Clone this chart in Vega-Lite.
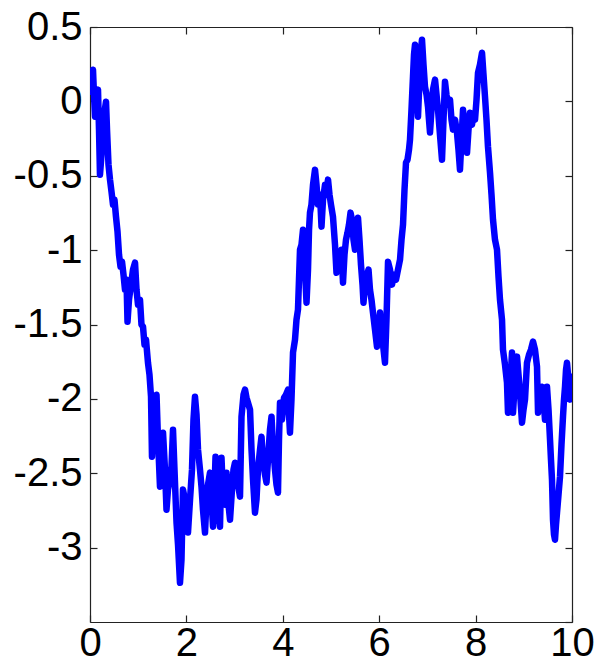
{
  "$schema": "https://vega.github.io/schema/vega-lite/v6.json",
  "width": 482,
  "height": 595,
  "autosize": {"type": "none"},
  "padding": {"left": 90, "top": 27, "right": 28, "bottom": 40},
  "background": "white",
  "config": {
    "view": {"stroke": null},
    "axis": {
      "domainColor": "#222222",
      "domainWidth": 1.2,
      "tickColor": "#222222",
      "tickWidth": 1.2,
      "tickSize": -7,
      "labelFont": "Liberation Sans",
      "labelFontSize": 40,
      "labelColor": "#000000",
      "grid": false,
      "title": null
    }
  },
  "data": {
    "values": [
      {"x":0,"y":0.065},{"x":0.031,"y":0.159},{"x":0.062,"y":0.213},{"x":0.083,"y":0.045},{"x":0.104,"y":-0.103},
      {"x":0.135,"y":0.025},{"x":0.166,"y":0.079},{"x":0.187,"y":-0.19},{"x":0.207,"y":-0.493},{"x":0.239,"y":-0.358},
      {"x":0.27,"y":-0.11},{"x":0.301,"y":-0.069},{"x":0.332,"y":-0.002},{"x":0.353,"y":-0.19},{"x":0.384,"y":-0.426},
      {"x":0.415,"y":-0.526},{"x":0.446,"y":-0.607},{"x":0.477,"y":-0.694},{"x":0.508,"y":-0.661},{"x":0.539,"y":-0.775},
      {"x":0.571,"y":-0.876},{"x":0.602,"y":-1.031},{"x":0.633,"y":-1.111},{"x":0.664,"y":-1.078},{"x":0.695,"y":-1.165},
      {"x":0.726,"y":-1.266},{"x":0.757,"y":-1.199},{"x":0.778,"y":-1.481},{"x":0.809,"y":-1.333},{"x":0.851,"y":-1.232},
      {"x":0.892,"y":-1.131},{"x":0.934,"y":-1.084},{"x":0.965,"y":-1.266},{"x":0.996,"y":-1.367},{"x":1.037,"y":-1.333},
      {"x":1.068,"y":-1.501},{"x":1.1,"y":-1.515},{"x":1.131,"y":-1.636},{"x":1.162,"y":-1.602},{"x":1.203,"y":-1.757},
      {"x":1.234,"y":-1.837},{"x":1.266,"y":-1.985},{"x":1.286,"y":-2.389},{"x":1.317,"y":-2.14},{"x":1.349,"y":-2.019},
      {"x":1.38,"y":-1.972},{"x":1.411,"y":-2.274},{"x":1.452,"y":-2.59},{"x":1.483,"y":-2.342},{"x":1.515,"y":-2.227},
      {"x":1.556,"y":-2.476},{"x":1.587,"y":-2.745},{"x":1.618,"y":-2.61},{"x":1.66,"y":-2.543},{"x":1.691,"y":-2.456},
      {"x":1.722,"y":-2.207},{"x":1.753,"y":-2.476},{"x":1.795,"y":-2.832},{"x":1.826,"y":-2.98},{"x":1.867,"y":-3.236},
      {"x":1.898,"y":-3.081},{"x":1.929,"y":-2.61},{"x":1.971,"y":-2.678},{"x":2.002,"y":-2.758},{"x":2.033,"y":-2.899},
      {"x":2.075,"y":-2.678},{"x":2.116,"y":-2.476},{"x":2.147,"y":-2.14},{"x":2.178,"y":-1.985},{"x":2.21,"y":-2.106},
      {"x":2.241,"y":-2.342},{"x":2.282,"y":-2.476},{"x":2.313,"y":-2.59},{"x":2.344,"y":-2.745},{"x":2.386,"y":-2.899},
      {"x":2.417,"y":-2.678},{"x":2.448,"y":-2.577},{"x":2.49,"y":-2.496},{"x":2.521,"y":-2.678},{"x":2.552,"y":-2.859},
      {"x":2.583,"y":-2.61},{"x":2.604,"y":-2.389},{"x":2.635,"y":-2.61},{"x":2.666,"y":-2.745},{"x":2.697,"y":-2.859},
      {"x":2.728,"y":-2.395},{"x":2.759,"y":-2.644},{"x":2.801,"y":-2.711},{"x":2.832,"y":-2.496},{"x":2.863,"y":-2.678},
      {"x":2.905,"y":-2.812},{"x":2.946,"y":-2.61},{"x":2.977,"y":-2.476},{"x":3.008,"y":-2.429},{"x":3.04,"y":-2.476},
      {"x":3.071,"y":-2.577},{"x":3.112,"y":-2.657},{"x":3.143,"y":-2.12},{"x":3.185,"y":-1.972},{"x":3.216,"y":-1.938},
      {"x":3.247,"y":-1.992},{"x":3.278,"y":-2.026},{"x":3.32,"y":-2.073},{"x":3.351,"y":-2.342},{"x":3.382,"y":-2.543},
      {"x":3.423,"y":-2.765},{"x":3.454,"y":-2.678},{"x":3.485,"y":-2.476},{"x":3.527,"y":-2.342},{"x":3.558,"y":-2.254},
      {"x":3.589,"y":-2.409},{"x":3.631,"y":-2.51},{"x":3.662,"y":-2.563},{"x":3.693,"y":-2.409},{"x":3.734,"y":-2.207},
      {"x":3.766,"y":-2.12},{"x":3.797,"y":-2.308},{"x":3.838,"y":-2.476},{"x":3.869,"y":-2.577},{"x":3.9,"y":-2.631},
      {"x":3.921,"y":-2.274},{"x":3.942,"y":-2.026},{"x":3.983,"y":-2.14},{"x":4.025,"y":-1.992},{"x":4.066,"y":-1.972},
      {"x":4.108,"y":-1.938},{"x":4.129,"y":-2.106},{"x":4.149,"y":-2.227},{"x":4.18,"y":-2.005},{"x":4.212,"y":-1.689},
      {"x":4.253,"y":-1.602},{"x":4.284,"y":-1.468},{"x":4.315,"y":-1.4},{"x":4.336,"y":-1.199},{"x":4.357,"y":-0.997},
      {"x":4.388,"y":-0.963},{"x":4.419,"y":-0.863},{"x":4.45,"y":-1.064},{"x":4.492,"y":-1.353},{"x":4.523,"y":-1.131},
      {"x":4.544,"y":-0.863},{"x":4.564,"y":-0.748},{"x":4.595,"y":-0.694},{"x":4.627,"y":-0.56},{"x":4.668,"y":-0.459},
      {"x":4.699,"y":-0.56},{"x":4.73,"y":-0.694},{"x":4.772,"y":-0.627},{"x":4.803,"y":-0.842},{"x":4.834,"y":-0.661},
      {"x":4.876,"y":-0.56},{"x":4.907,"y":-0.594},{"x":4.938,"y":-0.526},{"x":4.969,"y":-0.627},{"x":5.0,"y":-0.694},
      {"x":5.041,"y":-0.775},{"x":5.083,"y":-0.963},{"x":5.114,"y":-1.152},{"x":5.145,"y":-1.098},{"x":5.187,"y":-1.131},
      {"x":5.218,"y":-0.997},{"x":5.249,"y":-1.219},{"x":5.28,"y":-1.031},{"x":5.311,"y":-0.93},{"x":5.342,"y":-0.883},
      {"x":5.373,"y":-0.829},{"x":5.405,"y":-0.748},{"x":5.436,"y":-0.795},{"x":5.467,"y":-0.93},{"x":5.498,"y":-0.997},
      {"x":5.529,"y":-0.863},{"x":5.56,"y":-0.782},{"x":5.591,"y":-0.93},{"x":5.622,"y":-1.098},{"x":5.654,"y":-1.232},
      {"x":5.674,"y":-1.353},{"x":5.705,"y":-1.232},{"x":5.747,"y":-1.165},{"x":5.778,"y":-1.131},{"x":5.809,"y":-1.266},
      {"x":5.84,"y":-1.333},{"x":5.871,"y":-1.42},{"x":5.913,"y":-1.535},{"x":5.954,"y":-1.649},{"x":5.985,"y":-1.535},
      {"x":6.017,"y":-1.42},{"x":6.048,"y":-1.568},{"x":6.079,"y":-1.636},{"x":6.12,"y":-1.757},{"x":6.151,"y":-1.468},
      {"x":6.183,"y":-1.078},{"x":6.224,"y":-1.131},{"x":6.266,"y":-1.232},{"x":6.307,"y":-1.165},{"x":6.349,"y":-1.199},
      {"x":6.39,"y":-1.131},{"x":6.432,"y":-1.064},{"x":6.463,"y":-0.93},{"x":6.494,"y":-0.829},{"x":6.525,"y":-0.594},
      {"x":6.556,"y":-0.412},{"x":6.587,"y":-0.392},{"x":6.618,"y":-0.325},{"x":6.639,"y":-0.257},{"x":6.67,"y":-0.056},
      {"x":6.701,"y":0.166},{"x":6.722,"y":0.314},{"x":6.743,"y":0.381},{"x":6.774,"y":0.146},{"x":6.805,"y":-0.103},
      {"x":6.836,"y":0.146},{"x":6.867,"y":0.348},{"x":6.888,"y":0.415},{"x":6.919,"y":0.247},{"x":6.95,"y":0.099},
      {"x":6.982,"y":0.045},{"x":7.013,"y":-0.036},{"x":7.033,"y":-0.123},{"x":7.054,"y":-0.21},{"x":7.085,"y":-0.056},
      {"x":7.116,"y":0.079},{"x":7.158,"y":0.146},{"x":7.189,"y":0.045},{"x":7.22,"y":-0.056},{"x":7.261,"y":-0.224},
      {"x":7.303,"y":-0.392},{"x":7.334,"y":-0.123},{"x":7.365,"y":0.132},{"x":7.396,"y":0.045},{"x":7.427,"y":-0.022},
      {"x":7.469,"y":0.011},{"x":7.5,"y":-0.123},{"x":7.531,"y":-0.19},{"x":7.573,"y":-0.123},{"x":7.614,"y":-0.21},
      {"x":7.645,"y":-0.325},{"x":7.676,"y":-0.459},{"x":7.707,"y":-0.257},{"x":7.739,"y":-0.056},{"x":7.78,"y":-0.19},
      {"x":7.822,"y":-0.345},{"x":7.853,"y":-0.19},{"x":7.884,"y":-0.076},{"x":7.925,"y":-0.157},{"x":7.956,"y":-0.089},
      {"x":7.988,"y":-0.123},{"x":8.019,"y":0.011},{"x":8.05,"y":0.193},{"x":8.091,"y":0.247},{"x":8.133,"y":0.327},
      {"x":8.164,"y":0.179},{"x":8.195,"y":0.032},{"x":8.226,"y":-0.123},{"x":8.257,"y":-0.305},{"x":8.299,"y":-0.479},
      {"x":8.33,"y":-0.627},{"x":8.361,"y":-0.795},{"x":8.402,"y":-0.93},{"x":8.444,"y":-0.997},{"x":8.475,"y":-1.178},
      {"x":8.506,"y":-1.333},{"x":8.548,"y":-1.468},{"x":8.568,"y":-1.669},{"x":8.61,"y":-1.77},{"x":8.651,"y":-1.891},
      {"x":8.672,"y":-2.093},{"x":8.714,"y":-1.938},{"x":8.755,"y":-1.689},{"x":8.776,"y":-2.093},{"x":8.817,"y":-1.871},
      {"x":8.859,"y":-1.716},{"x":8.89,"y":-1.837},{"x":8.921,"y":-1.958},{"x":8.963,"y":-2.16},{"x":8.994,"y":-2.073},
      {"x":9.025,"y":-2.005},{"x":9.066,"y":-1.757},{"x":9.108,"y":-1.703},{"x":9.149,"y":-1.669},{"x":9.191,"y":-1.615},
      {"x":9.232,"y":-1.669},{"x":9.274,"y":-1.784},{"x":9.295,"y":-2.093},{"x":9.336,"y":-2.005},{"x":9.378,"y":-1.918},
      {"x":9.409,"y":-2.005},{"x":9.44,"y":-2.14},{"x":9.481,"y":-1.918},{"x":9.513,"y":-2.073},{"x":9.544,"y":-2.274},
      {"x":9.564,"y":-2.409},{"x":9.585,"y":-2.543},{"x":9.606,"y":-2.812},{"x":9.627,"y":-2.913},{"x":9.647,"y":-2.947},
      {"x":9.668,"y":-2.846},{"x":9.689,"y":-2.765},{"x":9.72,"y":-2.644},{"x":9.751,"y":-2.523},{"x":9.782,"y":-2.308},
      {"x":9.813,"y":-2.12},{"x":9.834,"y":-2.005},{"x":9.855,"y":-1.918},{"x":9.876,"y":-1.804},{"x":9.896,"y":-1.757},
      {"x":9.927,"y":-1.871},{"x":9.959,"y":-2.005},{"x":9.979,"y":-1.938},{"x":10.0,"y":-1.851}
    ]
  },
  "layer": [
    {
      "mark": {"type": "line", "color": "#0000FF", "strokeWidth": 6.5, "strokeJoin": "round", "strokeCap": "round", "clip": true},
      "encoding": {
        "x": {"field": "x", "type": "quantitative",
          "scale": {"domain": [0, 10], "nice": false, "zero": false},
          "axis": {"orient": "bottom", "values": [0, 2, 4, 6, 8, 10], "labelPadding": 8, "labelExpr": "'' + datum.value", "labelFlush": false, "labelOverlap": false}},
        "y": {"field": "y", "type": "quantitative",
          "scale": {"domain": [-3.5, 0.5], "nice": false, "zero": false},
          "axis": {"orient": "left", "values": [-3, -2.5, -2, -1.5, -1, -0.5, 0, 0.5], "labelPadding": 15, "labelExpr": "'' + datum.value", "labelFlush": false, "labelOverlap": false}}
      }
    },
    {
      "mark": {"type": "line", "opacity": 0},
      "encoding": {
        "x": {"field": "x", "type": "quantitative",
          "scale": {"domain": [0, 10], "nice": false, "zero": false},
          "axis": {"orient": "top", "values": [0, 2, 4, 6, 8, 10], "labels": false}},
        "y": {"field": "y", "type": "quantitative",
          "scale": {"domain": [-3.5, 0.5], "nice": false, "zero": false},
          "axis": {"orient": "right", "values": [-3.5, -3, -2.5, -2, -1.5, -1, -0.5, 0, 0.5], "labels": false}}
      }
    }
  ],
  "resolve": {"axis": {"x": "independent", "y": "independent"}}
}
